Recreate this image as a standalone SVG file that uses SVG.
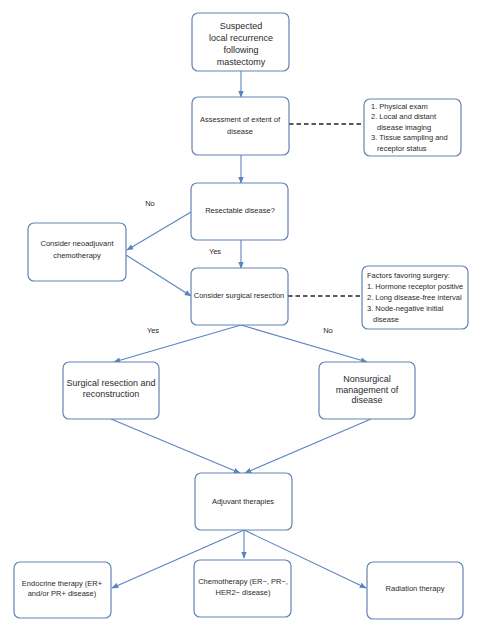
<svg xmlns="http://www.w3.org/2000/svg" width="484" height="630" viewBox="0 0 484 630">
<style>
.box{fill:#fff;stroke:#6283b5;stroke-width:1.2}
.t{font-family:"Liberation Sans",Arial,sans-serif;font-size:7.5px;fill:#2a2a2a;text-anchor:middle}
.l{text-anchor:start}
.big{font-size:9px}
.c{fill:none;stroke:#5a83bf;stroke-width:1.1}
.d{fill:none;stroke:#222;stroke-width:1.4;stroke-dasharray:4.5,3}
</style>
<defs>
<marker id="ah" viewBox="0 0 10 10" refX="9" refY="5" markerWidth="7" markerHeight="7" orient="auto" markerUnits="userSpaceOnUse">
<path d="M0,1 L10,5 L0,9 Z" fill="#5a83bf"/>
</marker>
</defs>
<rect width="484" height="630" fill="#fff"/>
<g id="connectors">
<line class="c" x1="241" y1="71" x2="241" y2="97" marker-end="url(#ah)"/>
<line class="c" x1="241" y1="155" x2="241" y2="183" marker-end="url(#ah)"/>
<line class="d" x1="289" y1="124" x2="363" y2="124"/>
<line class="c" x1="191" y1="212" x2="127" y2="250" marker-end="url(#ah)"/>
<line class="c" x1="241" y1="240" x2="241" y2="268" marker-end="url(#ah)"/>
<line class="c" x1="126" y1="255" x2="191" y2="296" marker-end="url(#ah)"/>
<line class="d" x1="288" y1="296" x2="362" y2="296"/>
<line class="c" x1="241" y1="325" x2="114" y2="362" marker-end="url(#ah)"/>
<line class="c" x1="241" y1="325" x2="367" y2="362" marker-end="url(#ah)"/>
<line class="c" x1="111" y1="419" x2="240" y2="473" marker-end="url(#ah)"/>
<line class="c" x1="371" y1="419" x2="245" y2="473" marker-end="url(#ah)"/>
<line class="c" x1="244" y1="530" x2="112" y2="588" marker-end="url(#ah)"/>
<line class="c" x1="244" y1="530" x2="244" y2="558" marker-end="url(#ah)"/>
<line class="c" x1="244" y1="530" x2="366" y2="588" marker-end="url(#ah)"/>
</g>
<g id="labels">
<text class="t" x="150" y="206">No</text>
<text class="t" x="215" y="254">Yes</text>
<text class="t" x="153" y="333">Yes</text>
<text class="t" x="328" y="333">No</text>
</g>
<g id="n-suspected">
<rect class="box" x="192" y="13" width="97" height="58" rx="6"/>
<text class="t big" x="241" y="29">Suspected</text>
<text class="t big" x="241" y="41">local recurrence</text>
<text class="t big" x="241" y="53">following</text>
<text class="t big" x="241" y="65">mastectomy</text>
</g>
<g id="n-assessment">
<rect class="box" x="192" y="97" width="97" height="58" rx="6"/>
<text class="t" x="240" y="122">Assessment of extent of</text>
<text class="t" x="240" y="134">disease</text>
</g>
<g id="n-assess-info">
<rect class="box" x="364" y="99" width="97" height="57" rx="6"/>
<text class="t l" x="371" y="109">1. Physical exam</text>
<text class="t l" x="371" y="119">2. Local and distant</text>
<text class="t l" x="377" y="130">disease imaging</text>
<text class="t l" x="371" y="140">3. Tissue sampling and</text>
<text class="t l" x="377" y="151">receptor status</text>
</g>
<g id="n-resectable">
<rect class="box" x="191" y="183" width="97" height="57" rx="6"/>
<text class="t" x="240" y="213">Resectable disease?</text>
</g>
<g id="n-neoadjuvant">
<rect class="box" x="28" y="223" width="98" height="58" rx="6"/>
<text class="t" x="77" y="246">Consider neoadjuvant</text>
<text class="t" x="77" y="258">chemotherapy</text>
</g>
<g id="n-consider-surgery">
<rect class="box" x="191" y="268" width="97" height="57" rx="6"/>
<text class="t" x="239" y="298">Consider surgical resection</text>
</g>
<g id="n-factors">
<rect class="box" x="362" y="266" width="106" height="63" rx="6"/>
<text class="t l" x="367" y="278">Factors favoring surgery:</text>
<text class="t l" x="367" y="289">1. Hormone receptor positive</text>
<text class="t l" x="367" y="300">2. Long disease-free interval</text>
<text class="t l" x="367" y="311">3. Node-negative initial</text>
<text class="t l" x="373" y="322">disease</text>
</g>
<g id="n-surgical">
<rect class="box" x="63" y="362" width="96" height="57" rx="6"/>
<text class="t big" x="111" y="386">Surgical resection and</text>
<text class="t big" x="111" y="397">reconstruction</text>
</g>
<g id="n-nonsurgical">
<rect class="box" x="319" y="362" width="96" height="57" rx="6"/>
<text class="t big" x="367" y="382">Nonsurgical</text>
<text class="t big" x="367" y="393">management of</text>
<text class="t big" x="367" y="403">disease</text>
</g>
<g id="n-adjuvant">
<rect class="box" x="195" y="473" width="97" height="57" rx="6"/>
<text class="t" x="243" y="504">Adjuvant therapies</text>
</g>
<g id="n-endocrine">
<rect class="box" x="14" y="562" width="97" height="56" rx="6"/>
<text class="t" x="62" y="586">Endocrine therapy (ER+</text>
<text class="t" x="62" y="596">and/or PR+ disease)</text>
</g>
<g id="n-chemo">
<rect class="box" x="194" y="560" width="97" height="57" rx="6"/>
<text class="t" x="243" y="584">Chemotherapy (ER−, PR−,</text>
<text class="t" x="243" y="595">HER2− disease)</text>
</g>
<g id="n-radiation">
<rect class="box" x="367" y="562" width="96" height="57" rx="6"/>
<text class="t" x="415" y="591">Radiation therapy</text>
</g>
</svg>
